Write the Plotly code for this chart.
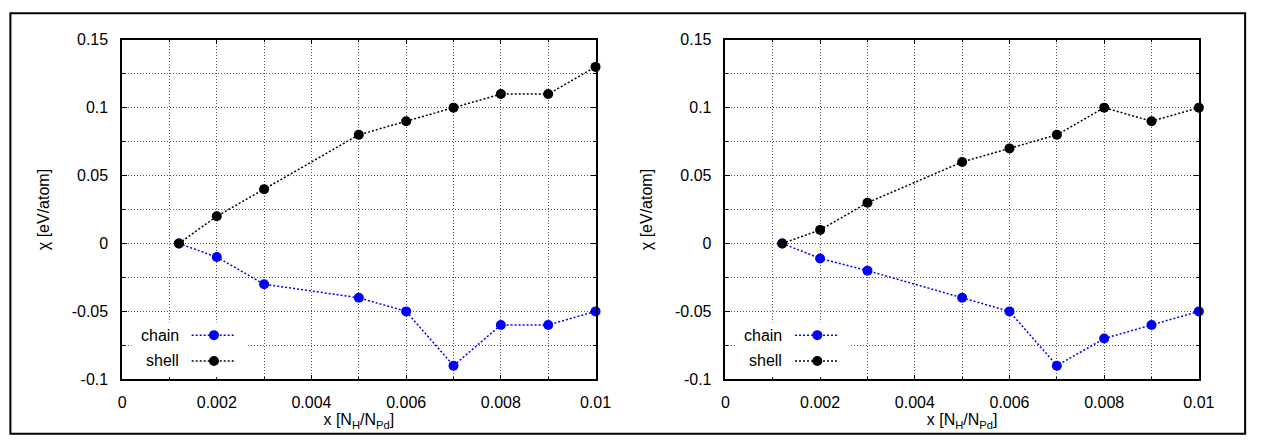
import plotly.graph_objects as go
from plotly.subplots import make_subplots

# ---- data ----
x_vals = [0.0012, 0.002, 0.003, 0.005, 0.006, 0.007, 0.008, 0.009, 0.01]
chain_left = [0, -0.01, -0.03, -0.04, -0.05, -0.09, -0.06, -0.06, -0.05]
shell_left = [0, 0.02, 0.04, 0.08, 0.09, 0.10, 0.11, 0.11, 0.13]
chain_right = [0, -0.011, -0.02, -0.04, -0.05, -0.09, -0.07, -0.06, -0.05]
shell_right = [0, 0.01, 0.03, 0.06, 0.07, 0.08, 0.10, 0.09, 0.10]

x_tickvals = [0, 0.002, 0.004, 0.006, 0.008, 0.01]
x_ticktext = ["0", "0.002", "0.004", "0.006", "0.008", "0.01"]
y_tickvals = [-0.1, -0.05, 0, 0.05, 0.1, 0.15]
y_ticktext = ["-0.1", "-0.05", "0", "0.05", "0.1", "0.15"]

series_names = ["chain", "shell"]
series_colors = ["#0000ff", "#000000"]

W, H = 1269, 446
FONT = "Liberation Sans, Arial, sans-serif"
GRID_DASH = "1px,2px"
LINE_DASH = "2px,2px"

fig = make_subplots(rows=1, cols=2)

panels = [(chain_left, shell_left), (chain_right, shell_right)]
for ci, (ch, sh) in enumerate(panels, start=1):
    for name, ys, col in zip(series_names, (ch, sh), series_colors):
        fig.add_trace(go.Scatter(
            x=x_vals, y=ys, mode="lines+markers", name=name,
            line=dict(color=col, width=1.5, dash=LINE_DASH),
            marker=dict(color=col, size=10, symbol="circle"),
            cliponaxis=False, showlegend=False,
        ), row=1, col=ci)

# plot area positions
x_domains = [[120 / W, 601 / W], [733 / W, 1214 / W]]
y_domain = [(H - 386) / H, (H - 33) / H]

grid_kw = dict(showgrid=True, gridcolor="#555", gridwidth=1, griddash=GRID_DASH)
axis_kw = dict(showline=True, linecolor="black", linewidth=1.5, mirror="ticks",
               ticks="inside", ticklen=5, tickcolor="black", zeroline=False,
               tickfont=dict(family=FONT, size=16, color="black"))

for i, ax in enumerate(["xaxis", "xaxis2"]):
    fig.layout[ax].update(
        domain=x_domains[i], range=[0, 0.01],
        tickvals=x_tickvals, ticktext=x_ticktext,
        minor=dict(dtick=0.001, tick0=0, showgrid=True, gridcolor="#555",
                   griddash=GRID_DASH, gridwidth=1, ticks="inside", ticklen=3,
                   tickcolor="black"),
        title=dict(text="x [N<sub>H</sub>/N<sub>Pd</sub>]",
                   font=dict(family=FONT, size=16, color="black"), standoff=4),
        ticklabelstandoff=8,
        **grid_kw, **axis_kw)
for i, ax in enumerate(["yaxis", "yaxis2"]):
    fig.layout[ax].update(
        domain=y_domain, range=[-0.1, 0.15],
        tickvals=y_tickvals, ticktext=y_ticktext,
        minor=dict(dtick=0.025, tick0=0, showgrid=True, gridcolor="#555",
                   griddash=GRID_DASH, gridwidth=1, ticks="inside", ticklen=3,
                   tickcolor="black"),
        title=dict(text="χ [eV/atom]",
                   font=dict(family=FONT, size=16, color="black"), standoff=18),
        ticklabelstandoff=9,
        **grid_kw, **axis_kw)

# ---- manual gnuplot-style legend (text left of sample) ----
shapes = []
annotations = []
leg_rows = [0.130, 0.054]
for i, (xr, yr) in enumerate([("x domain", "y domain"), ("x2 domain", "y2 domain")]):
    shapes.append(dict(type="rect", xref=xr, yref=yr, x0=0.02, x1=0.262,
                       y0=0.006, y1=0.167, fillcolor="white",
                       line=dict(width=0), layer="above"))
    for name, col, yy in zip(series_names, series_colors, leg_rows):
        annotations.append(dict(text=name, xref=xr, yref=yr, x=0.1247, y=yy,
                                xanchor="right", yanchor="middle", showarrow=False,
                                font=dict(family=FONT, size=16, color="black")))
        shapes.append(dict(type="line", xref=xr, yref=yr, x0=0.147, x1=0.239,
                           y0=yy, y1=yy, layer="above",
                           line=dict(color=col, width=1.5, dash=LINE_DASH)))
        shapes.append(dict(type="circle", xref=xr, yref=yr,
                           xsizemode="pixel", ysizemode="pixel",
                           xanchor=0.194, yanchor=yy,
                           x0=-5, x1=5, y0=-5, y1=5, layer="above",
                           fillcolor=col, line=dict(color=col, width=0)))

# outer frame
shapes.append(dict(type="rect", xref="paper", yref="paper",
                   x0=6.5 / W, x1=1261 / W, y0=1 - 442.5 / H, y1=1 - 5.5 / H,
                   line=dict(color="black", width=2), fillcolor="rgba(0,0,0,0)"))

fig.update_layout(
    width=W, height=H, margin=dict(l=0, r=0, t=0, b=0),
    paper_bgcolor="white", plot_bgcolor="white",
    font=dict(family=FONT, size=16, color="black"),
    shapes=shapes, annotations=annotations, showlegend=False,
)

fig.write_html("out.html")
